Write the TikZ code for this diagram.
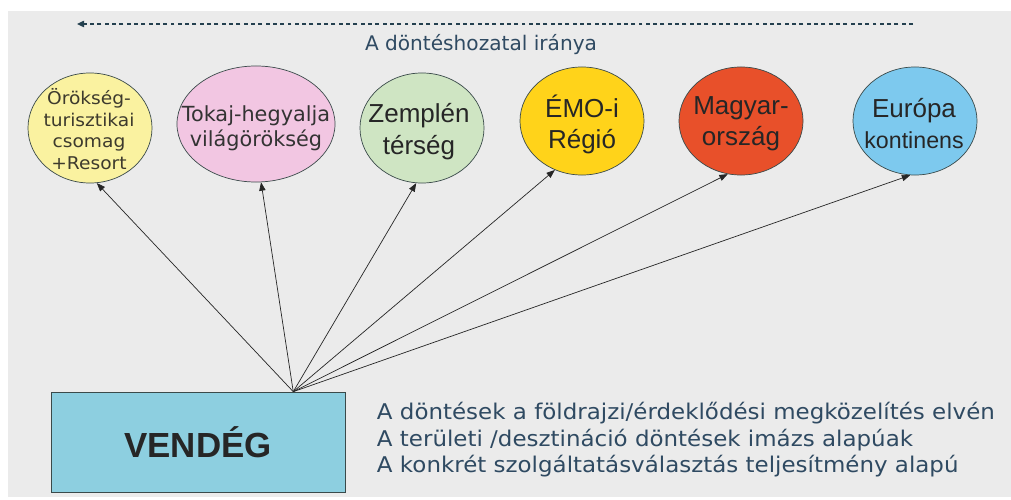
\documentclass[tikz,border=0pt]{standalone}
\usepackage{fontspec}
\setmainfont{DejaVu Sans}
\newfontfamily\arialfont{Liberation Sans}
\newfontfamily\widefont{DejaVu Sans}[FakeStretch=1.06]
\usepackage{xcolor}
\usepackage{tikz}
\usetikzlibrary{arrows.meta,positioning,calc,shapes.geometric}

\definecolor{bggray}{HTML}{EBEBEB}
\definecolor{inkblue}{HTML}{2F4A62}
\definecolor{dashink}{HTML}{24404F}
\definecolor{rimgray}{HTML}{3A4A4A}
\definecolor{heritage}{HTML}{FAF2A0}
\definecolor{tokajpink}{HTML}{F2C6E2}
\definecolor{zemgreen}{HTML}{CFE5C3}
\definecolor{emogold}{HTML}{FFD31A}
\definecolor{hungred}{HTML}{E8502A}
\definecolor{eurblue}{HTML}{7DC9EE}
\definecolor{guestblue}{HTML}{8DCFE0}

\tikzset{
  region/.style={ellipse, draw=rimgray, line width=0.5pt, inner sep=0pt},
  arr/.style={draw=black!85, line width=0.5pt, -{Triangle[length=6pt,width=4.5pt]}},
  note/.style={anchor=base west, inkblue, font=\widefont\fontsize{15.4}{19}\selectfont},
}

\begin{document}
\begin{tikzpicture}[x=0.025cm,y=-0.025cm]
    % Background
    \useasboundingbox (0,0) rectangle (1011,499);
    \fill[white] (0,0) rectangle (1011,499);
    \fill[bggray] (8,11) rectangle (1011,497);

    % Direction of decision making
    \coordinate (dirstart) at (913,24);
    \coordinate (dirend) at (77,24);
    \draw[dashink, line width=1pt, dash pattern=on 2.8pt off 2.4pt,
          -{Triangle[length=5pt,width=4.5pt]}] (dirstart) -- (dirend);
    \node[inkblue, font=\fontsize{14.3}{17}\selectfont, anchor=base] (dirlabel) at (481,51) {A döntéshozatal iránya};

    % Draw regions
    \node[region, fill=heritage, minimum width=3.1cm, minimum height=2.75cm] (oroks) at (90,128) {};
    \node[region, fill=tokajpink, minimum width=3.95cm, minimum height=2.9cm] (tokaj) at (256,124) {};
    \node[region, fill=zemgreen, minimum width=3.1cm, minimum height=2.75cm] (zemplen) at (422,128) {};
    \node[region, fill=emogold, minimum width=3.1cm, minimum height=2.7cm] (emo) at (582,121) {};
    \node[region, fill=hungred, minimum width=3.1cm, minimum height=2.7cm] (magyar) at (741,121) {};
    \node[region, fill=eurblue, minimum width=3.1cm, minimum height=2.7cm] (europa) at (915,121) {};

    % Region labels
    \node[align=center, text=black!75!olive, font=\widefont\fontsize{12.5}{15.3}\selectfont] at (89,129) {Örökség-\\turisztikai\\csomag\\+Resort};
    \node[align=center, text=black!80, font=\fontsize{14.8}{17.8}\selectfont] at (256,128) {Tokaj-hegyalja\\világörökség};
    \node[align=center, text=black!85, font=\arialfont\fontsize{18.5}{22.8}\selectfont] at (419,132) {Zemplén\\térség};
    \node[align=center, text=black!85, font=\arialfont\fontsize{18.5}{22}\selectfont] at (582,124) {ÉMO-i\\Régió};
    \node[align=center, text=black!85, font=\arialfont\fontsize{18.5}{22}\selectfont] at (741,124) {Magyar-\\ország};
    \node[align=center, text=black!85, font=\arialfont\fontsize{18.5}{22}\selectfont] at (914,124) {Európa\\{\fontsize{16.5}{20}\selectfont kontinens}};

    % Guest
    \node[draw=rimgray, line width=0.6pt, fill=guestblue, minimum width=7.35cm, minimum height=2.52cm,
          font=\arialfont\bfseries\fontsize{24.8}{28}\selectfont, text=black!85] (guest) at (198,442.5) {VENDÉG};
    \coordinate (apex) at ($(guest.north west)!0.823!(guest.north east)$);

    % Arrows from the guest
    \foreach \n/\a in {oroks/277, tokaj/275, zemplen/264, emo/241, magyar/256, europa/265}
        \draw[arr] (apex) -- (\n.\a);

    % Notes
    \node[note] (note1) at (372,419) {A döntések a földrajzi/érdeklődési megközelítés elvén};
    \node[note] (note2) at (372,446) {A területi /desztináció döntések imázs alapúak};
    \node[note] (note3) at (372,472) {A konkrét szolgáltatásválasztás teljesítmény alapú};
\end{tikzpicture}
\end{document}
